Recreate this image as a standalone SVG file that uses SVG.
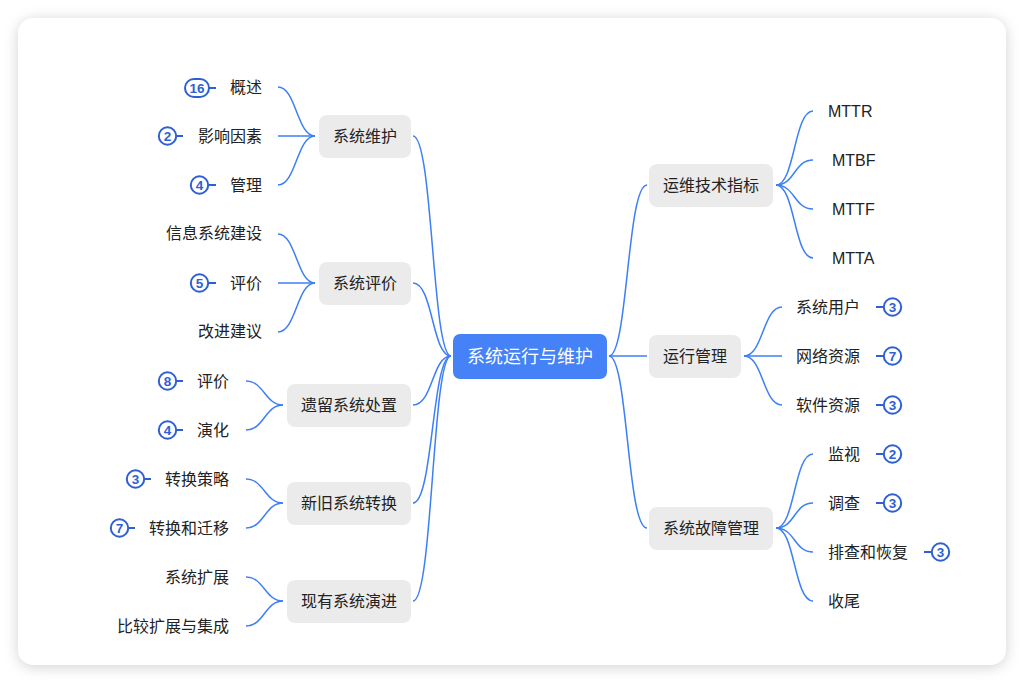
<svg xmlns="http://www.w3.org/2000/svg" width="1024" height="683" viewBox="0 0 1024 683">
<defs>
<filter id="sh" x="-10%" y="-10%" width="120%" height="120%">
<feDropShadow dx="0" dy="2" stdDeviation="7" flood-color="#000" flood-opacity="0.18"/>
</filter>
</defs>
<style>
text{font-family:"Noto Sans CJK SC","Liberation Sans",sans-serif;font-size:16px;fill:#222;dominant-baseline:central}
.lat{font-family:"Liberation Sans","Noto Sans CJK SC",sans-serif;font-size:16px}
.node rect{fill:#ebebeb}
.c path,.c line{fill:none;stroke:#3d7ff6;stroke-width:1.5}
.b circle,.b rect{fill:#fff;stroke:#2f5fd4;stroke-width:2}
.b line{stroke:#2f5fd4;stroke-width:2}
.b text{font-family:"Liberation Sans",sans-serif;font-weight:bold;font-size:13.5px;fill:#2f5fd4;text-anchor:middle}
.l{text-anchor:end}
</style>
<rect width="1024" height="683" fill="#fff"/>
<rect x="18" y="18" width="988" height="647" rx="16" fill="#fff" filter="url(#sh)"/>

<g id="connectors" class="c">
<path d="M451 356 C432 356,433 136,413 136"/>
<path d="M451 356 C432 356,433 283,413 283"/>
<path d="M451 356 C432 356,433 405,413 405"/>
<path d="M451 356 C432 356,433 503,413 503"/>
<path d="M451 356 C432 356,433 601,413 601"/>
<path d="M609 356 C628 356,627 185,647 185"/>
<line x1="609" y1="356" x2="647" y2="356"/>
<path d="M609 356 C628 356,627 528,647 528"/>
<path d="M315 136 C297 136,296 87,278 87"/>
<line x1="315" y1="136" x2="278" y2="136"/>
<path d="M315 136 C297 136,296 185,278 185"/>
<path d="M315 283 C297 283,296 234,278 234"/>
<line x1="315" y1="283" x2="278" y2="283"/>
<path d="M315 283 C297 283,296 332,278 332"/>
<path d="M283 405 C265 405,264 381,246 381"/>
<path d="M283 405 C265 405,264 430,246 430"/>
<path d="M283 503 C265 503,264 479,246 479"/>
<path d="M283 503 C265 503,264 528,246 528"/>
<path d="M283 601 C265 601,264 577,246 577"/>
<path d="M283 601 C265 601,264 626,246 626"/>
<path d="M776 185 C795 185,794 111,813 111"/>
<path d="M776 185 C795 185,794 160,813 160"/>
<path d="M776 185 C795 185,794 209,813 209"/>
<path d="M776 185 C795 185,794 258,813 258"/>
<path d="M744 356 C763 356,763 307,782 307"/>
<line x1="744" y1="356" x2="782" y2="356"/>
<path d="M744 356 C763 356,763 405,782 405"/>
<path d="M776 528 C795 528,794 454,813 454"/>
<path d="M776 528 C795 528,794 503,813 503"/>
<path d="M776 528 C795 528,794 552,813 552"/>
<path d="M776 528 C795 528,794 601,813 601"/>
</g>

<g id="root">
<rect x="453" y="334" width="154" height="45" rx="7" fill="#4581f7"/>
<text x="530" y="355" text-anchor="middle" style="fill:#fff;font-size:18px">系统运行与维护</text>
</g>

<g id="n-weihu" class="node"><rect x="319" y="115" width="92" height="43" rx="8"/><text x="365" y="135" text-anchor="middle">系统维护</text></g>
<g id="n-pingjia" class="node"><rect x="319" y="262" width="92" height="43" rx="8"/><text x="365" y="282" text-anchor="middle">系统评价</text></g>
<g id="n-yiliu" class="node"><rect x="287" y="384" width="124" height="43" rx="8"/><text x="349" y="404" text-anchor="middle">遗留系统处置</text></g>
<g id="n-xinjiu" class="node"><rect x="287" y="482" width="124" height="43" rx="8"/><text x="349" y="502" text-anchor="middle">新旧系统转换</text></g>
<g id="n-xianyou" class="node"><rect x="287" y="580" width="124" height="43" rx="8"/><text x="349" y="600" text-anchor="middle">现有系统演进</text></g>
<g id="n-zhibiao" class="node"><rect x="649" y="164" width="124" height="43" rx="8"/><text x="711" y="184" text-anchor="middle">运维技术指标</text></g>
<g id="n-yunxing" class="node"><rect x="649" y="335" width="92" height="43" rx="8"/><text x="695" y="355" text-anchor="middle">运行管理</text></g>
<g id="n-guzhang" class="node"><rect x="649" y="507" width="124" height="43" rx="8"/><text x="711" y="527" text-anchor="middle">系统故障管理</text></g>

<g id="leaf-gaishu"><text class="l" x="262" y="86">概述</text></g>
<g id="leaf-yingxiang"><text class="l" x="262" y="135">影响因素</text></g>
<g id="leaf-guanli"><text class="l" x="262" y="184">管理</text></g>
<g id="leaf-xinxi"><text class="l" x="262" y="232">信息系统建设</text></g>
<g id="leaf-pingjia1"><text class="l" x="262" y="282">评价</text></g>
<g id="leaf-gaijin"><text class="l" x="262" y="330">改进建议</text></g>
<g id="leaf-pingjia2"><text class="l" x="229" y="380">评价</text></g>
<g id="leaf-yanhua"><text class="l" x="229" y="429">演化</text></g>
<g id="leaf-celue"><text class="l" x="229" y="478">转换策略</text></g>
<g id="leaf-qianyi"><text class="l" x="229" y="527">转换和迁移</text></g>
<g id="leaf-kuozhan"><text class="l" x="229" y="576">系统扩展</text></g>
<g id="leaf-bijiao"><text class="l" x="229" y="625">比较扩展与集成</text></g>

<g id="leaf-mttr"><text class="lat" x="828" y="111">MTTR</text></g>
<g id="leaf-mtbf"><text class="lat" x="832" y="160">MTBF</text></g>
<g id="leaf-mttf"><text class="lat" x="832" y="209">MTTF</text></g>
<g id="leaf-mtta"><text class="lat" x="832" y="258">MTTA</text></g>
<g id="leaf-yonghu"><text x="796" y="306">系统用户</text></g>
<g id="leaf-wangluo"><text x="796" y="355">网络资源</text></g>
<g id="leaf-ruanjian"><text x="796" y="404">软件资源</text></g>
<g id="leaf-jianshi"><text x="828" y="453">监视</text></g>
<g id="leaf-diaocha"><text x="828" y="502">调查</text></g>
<g id="leaf-paicha"><text x="828" y="551">排查和恢复</text></g>
<g id="leaf-shouwei"><text x="828" y="600">收尾</text></g>

<g id="badges" class="b">
<line x1="209" y1="88" x2="216" y2="88"/><rect x="185" y="79" width="24" height="18" rx="9"/><text x="197" y="88.5">16</text>
<line x1="176" y1="136" x2="183" y2="136"/><circle cx="167.5" cy="136" r="8.7"/><text x="167.5" y="136.5">2</text>
<line x1="208" y1="185" x2="216" y2="185"/><circle cx="199.5" cy="185" r="8.7"/><text x="199.5" y="185.5">4</text>
<line x1="208" y1="283" x2="216" y2="283"/><circle cx="199.5" cy="283" r="8.7"/><text x="199.5" y="283.5">5</text>
<line x1="176" y1="381" x2="183" y2="381"/><circle cx="167.5" cy="381" r="8.7"/><text x="167.5" y="381.5">8</text>
<line x1="176" y1="430" x2="183" y2="430"/><circle cx="167.5" cy="430" r="8.7"/><text x="167.5" y="430.5">4</text>
<line x1="144" y1="479" x2="151" y2="479"/><circle cx="135.5" cy="479" r="8.7"/><text x="135.5" y="479.5">3</text>
<line x1="128" y1="528" x2="135" y2="528"/><circle cx="119.5" cy="528" r="8.7"/><text x="119.5" y="528.5">7</text>
<line x1="876" y1="307" x2="884" y2="307"/><circle cx="892.5" cy="307" r="8.7"/><text x="892.5" y="307.5">3</text>
<line x1="876" y1="356" x2="884" y2="356"/><circle cx="892.5" cy="356" r="8.7"/><text x="892.5" y="356.5">7</text>
<line x1="876" y1="405" x2="884" y2="405"/><circle cx="892.5" cy="405" r="8.7"/><text x="892.5" y="405.5">3</text>
<line x1="876" y1="454" x2="884" y2="454"/><circle cx="892.5" cy="454" r="8.7"/><text x="892.5" y="454.5">2</text>
<line x1="876" y1="503" x2="884" y2="503"/><circle cx="892.5" cy="503" r="8.7"/><text x="892.5" y="503.5">3</text>
<line x1="924" y1="552" x2="932" y2="552"/><circle cx="940.5" cy="552" r="8.7"/><text x="940.5" y="552.5">3</text>
</g>
</svg>
